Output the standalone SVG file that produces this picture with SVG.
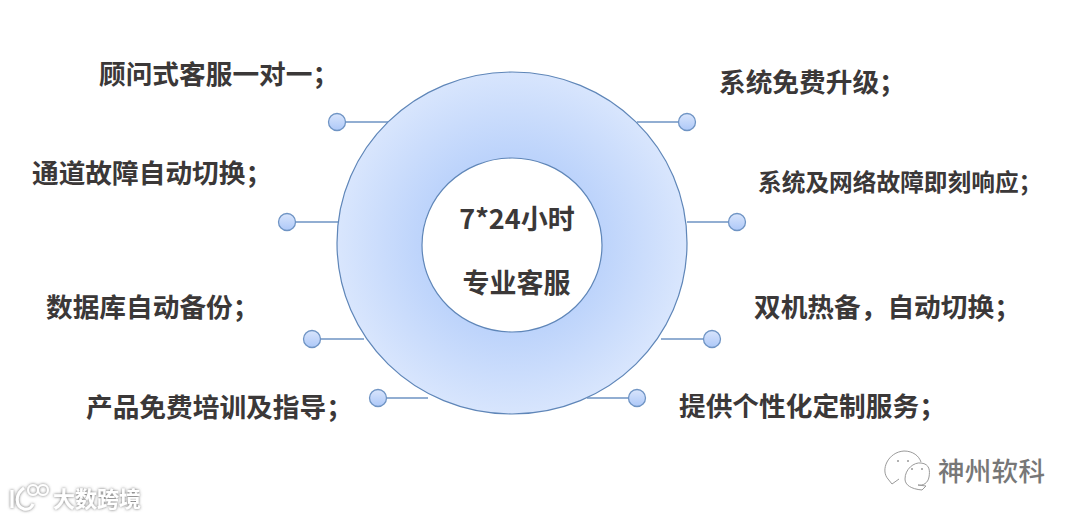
<svg xmlns="http://www.w3.org/2000/svg" width="1080" height="518" viewBox="0 0 1080 518">
<style>
.l{font-family:"Noto Sans CJK SC","Liberation Sans",sans-serif;font-weight:700;fill:#3b3838;font-size:26.7px}
.c{font-family:"Noto Sans CJK SC","Liberation Sans",sans-serif;font-weight:700;fill:#3b3838;font-size:27px;text-anchor:middle}
.k{stroke:#6f94c4;stroke-width:1.5;fill:none}
.d{fill:url(#dot);stroke:#6f94c4;stroke-width:1.3}
.w{fill:none;stroke:#9a9a9a;stroke-width:1}
</style>
<defs>
<radialGradient id="ring" gradientUnits="userSpaceOnUse" cx="512" cy="243" r="175">
<stop offset="0.5" stop-color="#bcd3fb"/><stop offset="1" stop-color="#d9e6fd"/>
</radialGradient>
<linearGradient id="dot" x1="0" y1="0" x2="0" y2="1"><stop offset="0" stop-color="#d9e5fc"/><stop offset="1" stop-color="#adc8f8"/></linearGradient>
<filter id="glow" x="-20%" y="-20%" width="140%" height="140%"><feDropShadow dx="0" dy="0" stdDeviation="1.4" flood-color="#666"/></filter>
</defs>
<rect width="1080" height="518" fill="#fff"/>
<g id="connectors">
<path class="k" d="M337 122H388M287 222H338M312 339H364M378 398H428M637 122H687M687 222H737M661 339H712M587 398H637"/>
</g>
<g id="ring-node">
<path d="M512 72C609 72 687 148 687 243S609 414 512 414 337 338 337 243 415 72 512 72ZM512 158C462 158 422 197 422 245S462 332 512 332 602 293 602 245 562 158 512 158Z" fill="url(#ring)" fill-rule="evenodd" stroke="#5f86b8" stroke-width="1.2"/>
<text class="c" x="517" y="229">7*24小时</text>
<text class="c" x="516.500" y="293">专业客服</text>
</g>
<g id="n1"><circle class="d" cx="337" cy="122" r="8.500"/><text class="l" x="99" y="84">顾问式客服一对一；</text></g>
<g id="n2"><circle class="d" cx="287" cy="222" r="8.500"/><text class="l" x="32" y="183">通道故障自动切换；</text></g>
<g id="n3"><circle class="d" cx="312" cy="339" r="8.500"/><text class="l" x="46" y="317">数据库自动备份；</text></g>
<g id="n4"><circle class="d" cx="378" cy="398" r="8.500"/><text class="l" x="86" y="417">产品免费培训及指导；</text></g>
<g id="n5"><circle class="d" cx="687" cy="122" r="8.500"/><text class="l" x="719" y="92">系统免费升级；</text></g>
<g id="n6"><circle class="d" cx="737" cy="222" r="8.500"/><text class="l" x="758" y="191" style="font-size:23.700px">系统及网络故障即刻响应；</text></g>
<g id="n7"><circle class="d" cx="712" cy="339" r="8.500"/><text class="l" x="754" y="317">双机热备，自动切换；</text></g>
<g id="n8"><circle class="d" cx="637" cy="398" r="8.500"/><text class="l" x="679" y="416">提供个性化定制服务；</text></g>
<g id="watermark-left" filter="url(#glow)">
<path d="M12 490V508M24 488C15 494 15 506 24 509C29 510 32 507 33 504" fill="none" stroke="#fff" stroke-width="3"/>
<circle cx="33" cy="490" r="5" fill="none" stroke="#fff" stroke-width="2"/>
<circle cx="43" cy="490" r="5" fill="none" stroke="#fff" stroke-width="2"/>
<text x="53" y="507" style="font-family:'Noto Sans CJK SC',sans-serif;font-size:22px;font-weight:700;fill:#fff">大数跨境</text>
</g>
<g id="watermark-right">
<path class="w" d="M888 479C880 470 888 452 904 451C913 451 919 456 921 462M888 479L892 484 899 479"/>
<path class="w" d="M905 479C905 469 914 462 921 463C930 464 930 471 929 477C928 483 923 486 918 485L926 486 922 490C911 489 905 485 905 479Z"/>
<circle cx="898" cy="461" r="1" fill="#999"/><circle cx="908" cy="461" r="1" fill="#999"/><circle cx="912" cy="469" r="1" fill="#999"/><circle cx="922" cy="469" r="1" fill="#999"/>
<text x="938" y="481" style="font-family:'Noto Sans CJK SC',sans-serif;font-size:26.500px;font-weight:500;fill:#777;letter-spacing:0.3px">神州软科</text>
</g>
</svg>
